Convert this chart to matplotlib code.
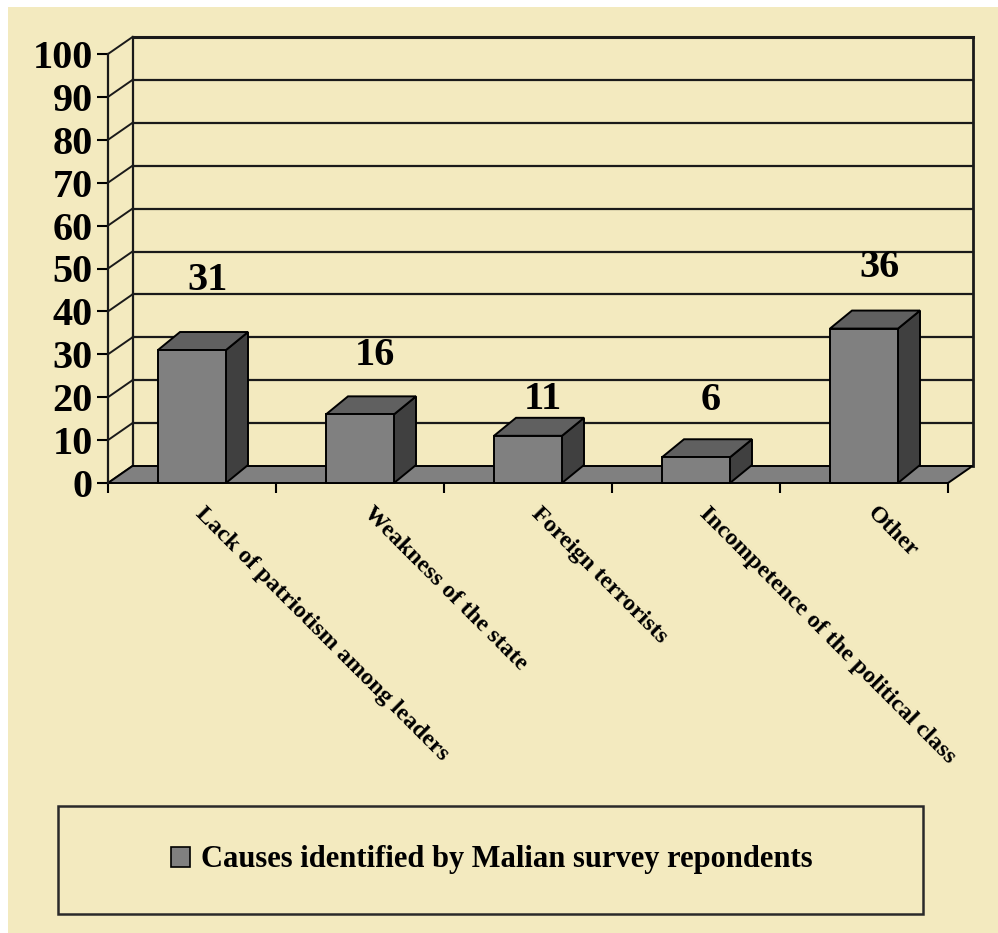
import matplotlib.pyplot as plt
from matplotlib.patches import Rectangle, Polygon, Patch

categories = ["Lack of patriotism among leaders", "Weakness of the state",
              "Foreign terrorists", "Incompetence of the political class", "Other"]
values = [31, 16, 11, 6, 36]
series_name = "Causes identified by Malian survey repondents"
y_ticks = [0, 10, 20, 30, 40, 50, 60, 70, 80, 90, 100]
# label heights above bar top (value units), as Excel placed them
label_pad = [16.2, 13.8, 8.4, 13.3, 14.2]

BG = "#F3EABF"
FRONT = "#808080"
TOP = "#606060"
SIDE = "#404040"
FONT = "Liberation Serif"

W, H = 998, 933
fig = plt.figure(figsize=(W / 100, H / 100), dpi=100)
fig.patch.set_facecolor("white")
fig.patches.append(Rectangle((8 / W, 0), 1 - 8 / W, (H - 7) / H, transform=fig.transFigure,
                             facecolor=BG, edgecolor="none", zorder=-5))

# front plane of the chart in pixels: x 108..948, y 483 (0) .. 54 (100)
ax = fig.add_axes([108 / W, (H - 483) / H, 840 / W, 429 / H])
ax.set_facecolor("none")
ax.set_xlim(0, 5)
ax.set_ylim(0, 100)

px_x = 5 / 840
px_y = 100 / 429
fdx, fdy = 24.5 * px_x, 17 * px_y   # floor / wall depth
bdx, bdy = 22 * px_x, 18 * px_y     # bar depth
bw = 68 * px_x

# back wall gridlines and diagonals
for v in y_ticks:
    lw = 2.2 if v == 100 else 1.6
    if v > 0:
        ax.plot([fdx, 5 + fdx], [v + fdy, v + fdy], color="#1a1a1a", lw=lw, clip_on=False, zorder=1)
    ax.plot([0, fdx], [v, v + fdy], color="#1a1a1a", lw=1.4, clip_on=False, zorder=1)
ax.plot([fdx, fdx], [fdy, 100 + fdy], color="#1a1a1a", lw=1.6, clip_on=False, zorder=1)
ax.plot([5 + fdx, 5 + fdx], [fdy, 100 + fdy], color="#1a1a1a", lw=2.0, clip_on=False, zorder=1)

# floor
ax.add_patch(Polygon([(0, 0), (5, 0), (5 + fdx, fdy), (fdx, fdy)], closed=True,
                     facecolor=FRONT, edgecolor="black", lw=1.4, clip_on=False, zorder=2))

# 3D bars
for i, v in enumerate(values):
    x0 = i + 0.5 - bw / 2
    x1 = x0 + bw
    ax.add_patch(Polygon([(x1, 0), (x1 + bdx, bdy), (x1 + bdx, v + bdy), (x1, v)], closed=True,
                         facecolor=SIDE, edgecolor="black", lw=1.4, clip_on=False, zorder=3))
    ax.add_patch(Polygon([(x0, v), (x1, v), (x1 + bdx, v + bdy), (x0 + bdx, v + bdy)], closed=True,
                         facecolor=TOP, edgecolor="black", lw=1.4, clip_on=False, zorder=3))
    ax.add_patch(Rectangle((x0, 0), bw, v, facecolor=FRONT, edgecolor="black", lw=1.4,
                           clip_on=False, zorder=4))
    ax.text(i + 0.5 + 0.09, v + label_pad[i], str(v), ha="center", va="center",
            fontsize=29, fontweight="bold", family=FONT, zorder=5)

# axes
for s in ["top", "right", "bottom"]:
    ax.spines[s].set_visible(False)
ax.spines["left"].set_linewidth(1.6)
ax.spines["left"].set_color("#1a1a1a")
ax.set_yticks(y_ticks)
ax.set_yticklabels([str(t) for t in y_ticks], fontsize=29, fontweight="bold", family=FONT)
ax.tick_params(axis="y", direction="out", length=8, width=1.5, pad=3)
ax.set_xticks(range(6))
ax.set_xticklabels([])
ax.tick_params(axis="x", direction="out", length=7.5, width=1.5)

for i, c in enumerate(categories):
    ax.text(i + 0.5 + 0.085, -0.047, c, transform=ax.get_xaxis_transform(), rotation=-45,
            rotation_mode="anchor", ha="left", va="top", fontsize=17.5, fontweight="bold",
            family=FONT)

# legend box
fig.patches.append(Rectangle((58 / W, (H - 914) / H), 865 / W, 108 / H, transform=fig.transFigure,
                             facecolor="none", edgecolor="#2a2a2a", lw=1.8, zorder=1))
handle = Patch(facecolor=FRONT, edgecolor="black", lw=1.2)
fig.legend([handle], [series_name], loc="center", bbox_to_anchor=(492 / W, (H - 860) / H),
           frameon=False, prop={"family": FONT, "weight": "bold", "size": 22},
           handlelength=0.6, handleheight=0.64, handletextpad=0.38)

fig.savefig("out.png", dpi=100, facecolor=fig.get_facecolor())
